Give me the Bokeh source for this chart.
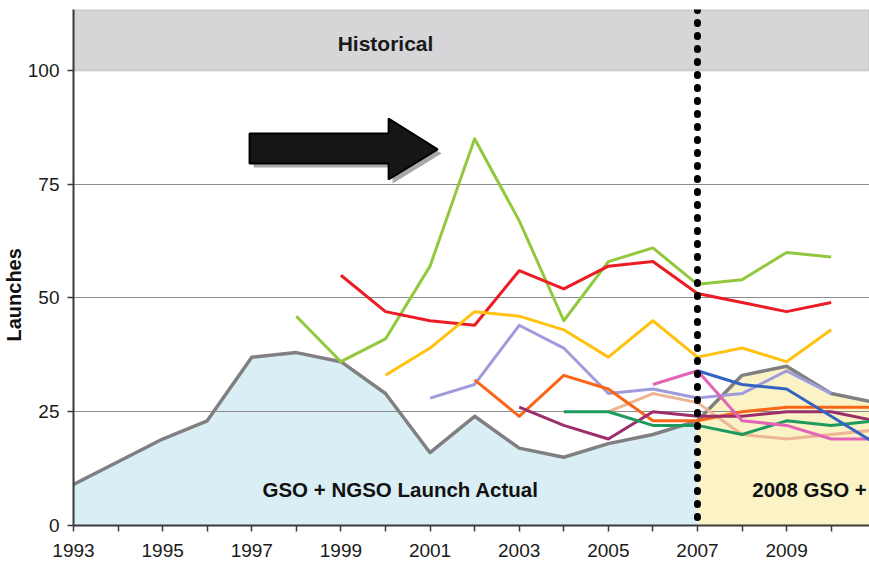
import math
from bokeh.plotting import figure
from bokeh.models import (BoxAnnotation, Span, Label, FixedTicker, Title)
from bokeh.core.properties import value
from bokeh.embed import file_html
from bokeh.resources import INLINE

# ---------------- data ----------------
years = list(range(1993, 2012))
tick_years = list(range(1993, 2012))
label_years = [1993, 1995, 1997, 1999, 2001, 2003, 2005, 2007, 2009, 2011]
y_ticks = [0, 25, 50, 75, 100]
grid_ticks = [25, 50, 75]

total_years = years
total = [9, 14, 19, 23, 37, 38, 36, 29, 16, 24, 17, 15, 18, 20, 23, 33, 35, 29, 27]
actual_end = 2007

lime_x = list(range(1998, 2011))
lime_y = [46, 36, 41, 57, 85, 67, 45, 58, 61, 53, 54, 60, 59]
red_x = list(range(1999, 2011))
red_y = [55, 47, 45, 44, 56, 52, 57, 58, 51, 49, 47, 49]
yellow_x = list(range(2000, 2011))
yellow_y = [33, 39, 47, 46, 43, 37, 45, 37, 39, 36, 43]
lav_x = list(range(2001, 2011))
lav_y = [28, 31, 44, 39, 29, 30, 28, 29, 34, 29]
orange_x = list(range(2002, 2012))
orange_y = [32, 24, 33, 30, 23, 23, 25, 26, 26, 26]
maroon_x = list(range(2003, 2012))
maroon_y = [26, 22, 19, 25, 24, 24, 25, 25, 23]
dgreen_x = list(range(2004, 2012))
dgreen_y = [25, 25, 22, 22, 20, 23, 22, 23]
tan_x = list(range(2005, 2012))
tan_y = [25, 29, 27, 20, 19, 20, 21]
pink_x = list(range(2006, 2012))
pink_y = [31, 34, 23, 22, 19, 19]
blue_x = list(range(2007, 2012))
blue_y = [34, 31, 30, 24, 18]

header_label = "Historical"
actual_label = "GSO + NGSO Launch Actual"
forecast_label = "2008 GSO +"
y_title = "Launches"

# arrow outline (data units)
arrow_x = [1996.95, 2000.07, 2000.07, 2001.17, 2000.07, 2000.07, 1996.95]
arrow_y = [86.15, 86.15, 89.45, 82.64, 76.04, 79.56, 79.56]

# ---------------- figure ----------------
FONT = "Liberation Sans"
p = figure(width=869, height=571, x_range=(1993, 2010.86), y_range=(0, 113.4),
           min_border_left=73, min_border_right=0, min_border_top=9, min_border_bottom=46,
           output_backend="svg", toolbar_location=None)
p.outline_line_color = None
p.background_fill_color = "white"
p.border_fill_color = "white"

# areas
hist_x = [x for x in total_years if x <= actual_end]
hist_y = [v for x, v in zip(total_years, total) if x <= actual_end]
fc_x = [x for x in total_years if x >= actual_end]
fc_y = [v for x, v in zip(total_years, total) if x >= actual_end]
p.varea(x=hist_x, y1=[0] * len(hist_x), y2=hist_y, fill_color="#DAEEF5", level="image")
p.varea(x=fc_x, y1=[0] * len(fc_x), y2=fc_y, fill_color="#FBF3C6", level="image")

# grid
p.xgrid.visible = False
p.ygrid.ticker = FixedTicker(ticks=grid_ticks)
p.ygrid.grid_line_color = "#8C8C8C"
p.ygrid.grid_line_width = 1

# header band
p.add_layout(BoxAnnotation(bottom=100, fill_color="#D6D6D9", fill_alpha=1,
                           line_color="#8A8A8A", line_width=2, level="underlay"))

# series lines
series = [
    (total_years, total, "#808080", 3.5),
    (lime_x, lime_y, "#92C83E", 3),
    (red_x, red_y, "#EC1C24", 3),
    (yellow_x, yellow_y, "#FFC20E", 3),
    (lav_x, lav_y, "#A09CDB", 3),
    (tan_x, tan_y, "#EDB594", 3),
    (orange_x, orange_y, "#F9661A", 3),
    (maroon_x, maroon_y, "#9B2F6B", 3),
    (dgreen_x, dgreen_y, "#1E9A5E", 3),
    (pink_x, pink_y, "#E264B6", 3),
    (blue_x, blue_y, "#3563C2", 3),
]
for xs, ys, c, w in series:
    p.line(xs, ys, line_color=c, line_width=w, line_join="round")

# dotted divider
p.add_layout(Span(location=actual_end, dimension="height", line_color="black",
                  line_width=7, line_dash="1 12", line_cap="round"))

# arrow with shadow
dx, dy = 0.09, -0.88
p.patch([x + dx for x in arrow_x], [y + dy for y in arrow_y], fill_color="#A8A8A8",
        line_color=None)
p.patch(arrow_x, arrow_y, fill_color="#161616", line_color="black", line_width=2)

# texts
p.add_layout(Label(x=2000.0, y=105.9, text=header_label, text_align="center",
                   text_baseline="middle", text_font=FONT, text_font_size="21px",
                   text_font_style="bold", text_color="#1A1A1A"))
p.text(x=[1997.24, 2008.23], y=[7.9, 7.9], text=[actual_label, forecast_label],
       text_align="left", text_baseline="middle", text_font=value(FONT),
       text_font_size="20.5px", text_font_style="bold", text_color="#111111")

# y-axis title as a left-side Title, placed over the lower part like the original
ytitle = Title(text=y_title, align="left", offset=184, text_font=FONT,
               text_font_size="20px", text_font_style="bold", text_color="#111111",
               standoff=0)
p.add_layout(ytitle, "left")

# axes
p.xaxis.ticker = FixedTicker(ticks=tick_years)
p.xaxis.major_label_overrides = {y: (str(y) if y in label_years else "") for y in tick_years}
p.yaxis.ticker = FixedTicker(ticks=y_ticks)
for ax in (p.xaxis[0], p.yaxis[0]):
    ax.axis_line_color = "#3A3A3A"
    ax.axis_line_width = 2
    ax.major_tick_line_color = "#3A3A3A"
    ax.major_tick_line_width = 1.5
    ax.major_tick_out = 6
    ax.major_tick_in = 0
    ax.minor_tick_line_color = None
    ax.major_label_text_font = FONT
    ax.major_label_text_font_size = "19px"
    ax.major_label_text_color = "#1A1A1A"
p.xaxis.major_label_standoff = 12
p.yaxis.major_label_standoff = 8

open("out.html", "w").write(file_html(p, INLINE))
